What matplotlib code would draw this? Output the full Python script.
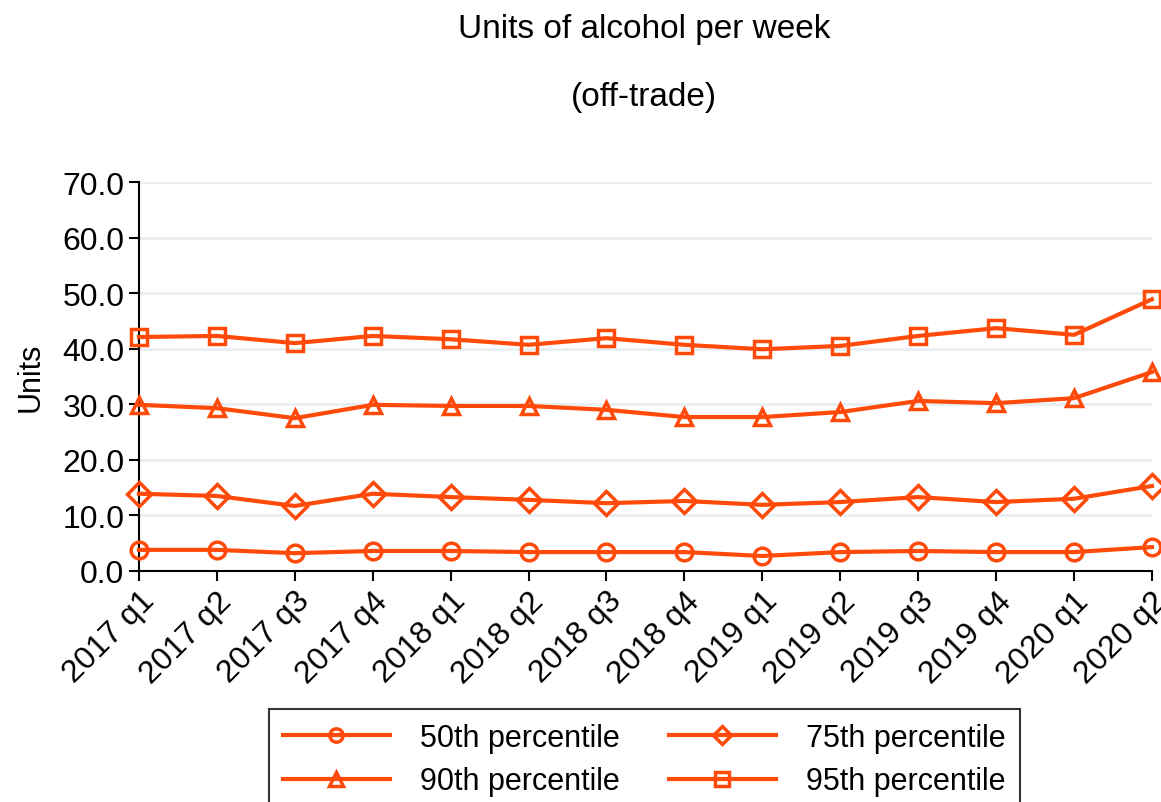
import matplotlib.pyplot as plt

plt.rcParams['font.family'] = ['Liberation Sans', 'DejaVu Sans']

quarters = ["2017 q1", "2017 q2", "2017 q3", "2017 q4",
            "2018 q1", "2018 q2", "2018 q3", "2018 q4",
            "2019 q1", "2019 q2", "2019 q3", "2019 q4",
            "2020 q1", "2020 q2"]
p50 = [3.8, 3.8, 3.2, 3.6, 3.6, 3.4, 3.4, 3.4, 2.7, 3.4, 3.6, 3.4, 3.4, 4.3]
p75 = [13.9, 13.5, 11.7, 13.9, 13.3, 12.8, 12.2, 12.6, 11.9, 12.4, 13.3, 12.4, 13.0, 15.3]
p90 = [29.9, 29.3, 27.5, 29.9, 29.7, 29.7, 29.0, 27.7, 27.7, 28.6, 30.6, 30.2, 31.1, 35.8]
p95 = [42.1, 42.3, 41.0, 42.3, 41.7, 40.7, 41.9, 40.7, 39.9, 40.5, 42.3, 43.7, 42.5, 48.9]

color = "#ff4a0a"

fig = plt.figure(figsize=(11.61, 8.03), dpi=100)
ax = fig.add_axes([0.1197, 0.2877, 0.8725, 0.4844])

x = list(range(len(quarters)))
series = [
    (p50, "o", "50th percentile"),
    (p75, "D", "75th percentile"),
    (p90, "^", "90th percentile"),
    (p95, "s", "95th percentile"),
]
handles = []
for vals, mk, lab in series:
    h, = ax.plot(x, vals, color=color, linewidth=3, marker=mk, markersize=12,
                 markerfacecolor="none", markeredgecolor=color, markeredgewidth=2.5,
                 label=lab, clip_on=False, zorder=3)
    handles.append(h)

ax.set_xlim(0, len(quarters) - 1)
ax.set_ylim(0, 70)
ax.set_yticks(range(0, 71, 10))
ax.set_yticklabels([f"{v:.1f}" for v in range(0, 71, 10)], fontsize=23)
ax.set_xticks(x)
ax.set_xticklabels(quarters, rotation=45, ha="right", rotation_mode="anchor", fontsize=23)
ax.tick_params(axis="both", length=7, width=1.5, direction="out")
ax.grid(axis="y", color="#e8eff2", linewidth=2)
ax.set_axisbelow(True)
for s in ["top", "right"]:
    ax.spines[s].set_visible(False)
for s in ["left", "bottom"]:
    ax.spines[s].set_linewidth(1.5)

ax.set_ylabel("Units", fontsize=22, labelpad=12)

fig.text(0.555, 0.963, "Units of alcohol per week", ha="center", va="center", fontsize=24)
fig.text(0.555, 0.878, "(off-trade)", ha="center", va="center", fontsize=24)

# legend order: row-major with 2 columns
order = [handles[0], handles[2], handles[1], handles[3]]
leg = fig.legend(order, [h.get_label() for h in order], ncol=2, loc="upper center",
                 bbox_to_anchor=(0.555, 0.116), borderaxespad=0, fontsize=22,
                 frameon=True, fancybox=False, edgecolor="black", handlelength=3.5,
                 columnspacing=1.6, borderpad=0.45, labelspacing=0.45,
                 handletextpad=1.0, markerscale=0.8)
leg.get_frame().set_linewidth(1.5)

fig.savefig("out.png", dpi=100)
